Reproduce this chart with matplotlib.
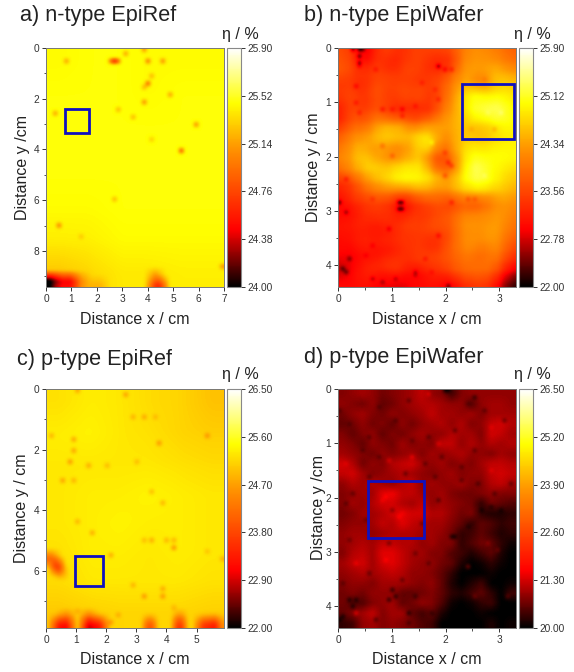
import numpy as np
import matplotlib
matplotlib.use('Agg')
import matplotlib.pyplot as plt
from matplotlib.colors import LinearSegmentedColormap
from matplotlib.patches import Rectangle
from matplotlib.ticker import MultipleLocator

plt.rcParams['font.family'] = ['Liberation Sans', 'DejaVu Sans']

W, H = 574, 672

# panel a) n-type EpiRef
a_base = [
    [25.45, 25.47, 25.47, 25.45, 25.45, 25.45],
    [25.47, 25.47, 25.47, 25.45, 25.47, 25.47],
    [25.47, 25.47, 25.47, 25.47, 25.47, 25.47],
    [25.47, 25.47, 25.47, 25.47, 25.47, 25.47],
    [25.47, 25.47, 25.47, 25.47, 25.47, 25.47],
    [25.45, 25.45, 25.47, 25.47, 25.47, 25.47],
    [25.40, 25.41, 25.45, 25.45, 25.45, 25.45],
    [25.27, 25.33, 25.39, 25.39, 25.41, 25.41],
]
a_spot_x = [2.7, 2.62, 2.78, 3.2, 0.8, 3.9, 3.95, 4.65, 3.8, 3.95, 4.1, 3.85, 4.85, 2.8, 0.35, 3.45, 5.85, 5.25, 4.1, 2.7, 0.45, 1.4, 6.9]
a_spot_y = [0.45, 0.45, 0.45, 0.25, 0.55, 0.1, 0.5, 0.55, 1.5, 1.35, 1.15, 2.2, 1.8, 2.4, 2.6, 2.7, 3.0, 4.05, 3.6, 6.0, 7.0, 7.4, 8.6]
a_spot_eta = [24.3, 24.8, 24.8, 25.0, 25.0, 25.0, 24.8, 24.9, 25.1, 24.7, 25.1, 24.9, 25.0, 25.1, 25.0, 25.1, 24.9, 24.6, 25.2, 25.1, 24.85, 25.2, 25.0]
a_band_x0 = [0.0, 0.0, 0.25, 0.55, 0.55, 1.2, 1.6, 4.2, 4.2]
a_band_x1 = [0.55, 0.25, 0.55, 1.2, 1.2, 1.6, 2.3, 4.6, 4.4]
a_band_y0 = [9.0, 9.2, 9.2, 9.05, 9.2, 9.1, 9.2, 9.2, 8.95]
a_band_y1 = [9.2, 9.42, 9.42, 9.2, 9.42, 9.42, 9.42, 9.42, 9.2]
a_band_eta = [23.8, 23.8, 24.2, 24.3, 24.5, 25.0, 25.2, 24.5, 25.0]
a_box = (0.75, 2.4, 0.95, 0.95)
a_cticks = [24.00, 24.38, 24.76, 25.14, 25.52, 25.90]

# panel b) n-type EpiWafer
b_grid = [
    [23.6, 23.4, 22.8, 23.1, 23.5, 23.4, 23.3, 23.5, 23.5, 23.5, 23.5, 23.6, 24.0, 24.2, 24.2, 24.1, 24.0, 23.8],
    [23.7, 23.5, 23.0, 23.3, 23.4, 23.1, 23.4, 23.5, 23.5, 23.2, 23.2, 23.3, 24.1, 24.3, 24.3, 24.3, 24.2, 24.0],
    [23.7, 23.5, 23.4, 23.5, 23.5, 23.4, 23.5, 23.6, 23.4, 23.4, 23.4, 23.8, 24.2, 24.4, 24.2, 24.5, 24.5, 24.3],
    [23.4, 23.4, 23.2, 23.5, 23.6, 23.5, 23.5, 23.4, 23.4, 23.5, 23.7, 24.0, 24.4, 24.3, 23.9, 24.4, 24.7, 24.6],
    [23.5, 23.6, 23.3, 23.7, 23.6, 23.4, 23.7, 23.6, 23.7, 23.3, 23.7, 24.1, 24.6, 25.0, 24.9, 24.8, 24.9, 24.8],
    [23.3, 23.6, 23.3, 23.5, 23.6, 23.4, 23.4, 23.4, 23.4, 23.4, 23.8, 24.2, 24.7, 25.1, 25.1, 25.2, 25.2, 24.9],
    [23.2, 23.7, 23.4, 23.8, 23.6, 23.3, 23.3, 23.3, 23.3, 23.4, 24.0, 24.3, 24.6, 25.1, 25.2, 25.3, 25.3, 25.0],
    [23.3, 23.8, 23.7, 24.0, 24.3, 24.2, 24.2, 23.7, 24.0, 24.2, 24.3, 24.4, 24.6, 24.7, 24.8, 24.9, 25.1, 25.0],
    [23.7, 24.1, 24.1, 24.4, 24.7, 24.7, 24.6, 24.5, 24.7, 24.5, 24.3, 24.3, 24.6, 24.5, 24.4, 24.6, 24.8, 24.9],
    [23.9, 24.3, 24.4, 24.4, 24.5, 24.4, 24.4, 24.5, 25.0, 24.9, 24.0, 24.3, 24.6, 24.8, 24.7, 24.8, 24.9, 24.9],
    [24.1, 24.4, 24.6, 24.2, 24.3, 24.0, 24.1, 24.4, 24.6, 24.2, 23.7, 24.1, 24.7, 25.0, 24.9, 25.0, 25.0, 25.0],
    [24.1, 24.4, 24.7, 24.7, 24.4, 24.4, 24.6, 24.7, 24.7, 23.8, 23.4, 23.8, 24.6, 25.2, 25.2, 25.0, 25.0, 24.9],
    [23.8, 24.2, 24.4, 24.7, 24.7, 24.9, 25.0, 25.0, 24.9, 24.6, 24.0, 24.1, 24.8, 25.3, 25.3, 25.0, 24.9, 24.7],
    [23.3, 23.5, 24.0, 24.3, 24.5, 24.7, 24.9, 24.9, 24.9, 24.7, 24.5, 24.5, 24.9, 25.1, 25.2, 25.0, 24.8, 24.6],
    [23.2, 23.5, 23.7, 23.9, 24.0, 24.0, 23.8, 24.0, 24.2, 24.1, 24.0, 24.2, 24.5, 24.6, 24.7, 24.5, 24.6, 24.4],
    [23.0, 23.3, 23.4, 23.5, 23.5, 23.3, 23.0, 23.3, 23.5, 23.7, 23.7, 23.4, 23.8, 23.6, 23.7, 24.0, 24.3, 24.2],
    [23.0, 23.0, 23.3, 23.4, 23.4, 23.3, 23.0, 23.3, 23.4, 23.4, 23.6, 23.7, 24.0, 24.0, 24.1, 24.2, 24.3, 24.1],
    [23.1, 23.2, 23.3, 23.2, 23.3, 23.3, 23.4, 23.6, 23.4, 23.7, 23.7, 23.8, 24.2, 24.3, 24.2, 24.3, 24.3, 24.0],
    [23.1, 23.1, 23.2, 23.1, 23.1, 23.2, 23.4, 23.4, 23.5, 23.5, 23.5, 23.7, 24.1, 24.2, 24.2, 24.4, 24.2, 23.9],
    [23.0, 23.1, 23.3, 23.2, 23.3, 23.3, 23.4, 23.4, 23.4, 23.2, 23.4, 23.8, 24.1, 24.3, 24.1, 24.3, 24.1, 23.7],
    [23.0, 22.9, 23.1, 23.0, 23.0, 23.1, 23.3, 23.4, 23.5, 23.4, 23.6, 23.8, 24.0, 24.1, 23.8, 24.1, 24.0, 23.5],
    [22.8, 22.9, 23.1, 23.2, 23.4, 23.5, 23.4, 23.3, 23.5, 23.5, 23.6, 23.7, 23.9, 23.9, 23.9, 24.0, 23.7, 23.2],
    [22.7, 23.0, 23.2, 23.3, 23.1, 23.3, 23.2, 23.0, 23.0, 23.3, 23.3, 23.6, 23.8, 23.9, 23.9, 23.8, 23.4, 22.8],
    [23.0, 23.0, 23.1, 23.0, 22.9, 22.9, 22.8, 23.0, 23.0, 23.1, 23.0, 22.9, 23.3, 23.4, 23.5, 23.3, 22.8, 22.2],
]
b_spot_x = [0.38, 0.38, 0.40, 0.30, 0.46, 0.42, 1.84, 1.97, 2.09, 0.72, 0.33, 0.36, 0.37, 1.22, 0.85, 1.04, 1.41, 1.19,
            1.86, 1.56, 1.78, 2.03, 2.13, 1.97, 2.0, 1.04, 0.82, 1.15, 1.22, 1.15, 1.22, 2.12, 2.4, 2.55, 0.17, 0.02, 0.14, 0.67,
            0.98, 0.62, 0.51, 0.24, 0.08, 0.14, 0.67, 1.07, 1.47, 1.41, 0.85, 1.84, 2.06, 1.63, 1.75,
            1.72, 2.77, 3.02, 2.71, 2.46, 2.9, 2.71]
b_spot_y = [0.05, 0.15, 0.25, 0.05, 0.05, 0.35, 0.36, 0.39, 0.41, 0.37, 0.72, 1.02, 1.17, 1.14, 1.16, 1.14, 1.09, 1.26,
            0.94, 0.62, 0.74, 2.12, 2.15, 1.94, 2.37, 1.97, 1.82, 2.82, 2.82, 2.95, 2.95, 2.87, 2.8, 2.8, 2.43, 2.86, 3.03, 2.8,
            3.32, 3.63, 3.8, 3.85, 4.06, 4.1, 4.26, 4.22, 4.15, 4.2, 4.33, 3.46, 4.34, 3.85, 4.12,
            1.72, 1.2, 1.17, 2.37, 1.48, 1.48, 0.57]
b_spot_eta = [22.0, 22.0, 22.1, 22.2, 22.2, 22.8, 22.0, 22.6, 22.9, 22.9, 22.7, 22.9, 23.0, 22.5, 22.8, 22.9, 22.9, 22.9,
              23.0, 23.0, 23.1, 22.9, 23.1, 23.2, 23.3, 23.5, 23.7, 22.0, 22.0, 22.0, 22.0, 22.9, 23.4, 23.5, 22.9, 22.1, 22.3, 23.2,
              22.5, 22.7, 22.7, 22.2, 22.0, 22.1, 22.4, 22.5, 22.5, 22.6, 22.4, 22.7, 22.3, 22.9, 22.9,
              25.1, 25.4, 25.5, 25.4, 24.3, 24.3, 23.9]
b_box = (2.3, 0.67, 0.97, 1.0)
b_cticks = [22.00, 22.78, 23.56, 24.34, 25.12, 25.90]

# panel c) p-type EpiRef
c_base = [
    [25.23, 25.33, 25.28, 25.18, 25.13, 24.98],
    [25.33, 25.38, 25.28, 25.23, 25.13, 25.08],
    [25.28, 25.28, 25.28, 25.28, 25.23, 25.18],
    [25.28, 25.33, 25.33, 25.38, 25.33, 25.28],
    [25.28, 25.33, 25.38, 25.33, 25.33, 25.28],
    [25.23, 25.33, 25.33, 25.28, 25.33, 25.28],
    [25.18, 25.28, 25.28, 25.28, 25.28, 25.23],
    [25.03, 25.08, 25.13, 25.13, 25.13, 25.08],
]
c_spot_x = [1.1, 2.7, 2.95, 3.3, 3.65, 0.15, 0.95, 0.9, 0.8, 1.45, 2.0, 3.0, 3.8, 5.4, 0.5, 0.9, 3.55, 3.85, 1.1, 1.5,
            3.3, 3.55, 4.0, 4.2, 4.3, 2.2, 5.3, 5.85, 2.9, 3.3, 3.85, 3.85, 4.3, 1.0, 2.35, 2.2]
c_spot_y = [0.1, 0.2, 0.9, 0.9, 0.95, 1.6, 1.65, 2.0, 2.35, 2.5, 2.5, 2.45, 1.85, 1.5, 3.05, 3.05, 3.45, 3.8, 4.4, 4.7,
            5.0, 5.0, 4.95, 5.2, 5.0, 5.55, 5.4, 5.6, 6.5, 6.85, 6.55, 6.8, 7.2, 7.3, 7.45, 7.75]
c_spot_eta = [24.6, 24.4, 24.6, 24.5, 24.7, 24.6, 24.4, 24.4, 24.3, 24.5, 24.7, 24.7, 24.3, 24.3, 24.4, 24.6, 24.7, 24.6, 24.6, 24.5,
              24.7, 24.5, 24.6, 24.2, 24.6, 24.5, 24.8, 24.7, 24.6, 24.3, 24.5, 24.3, 24.7, 24.7, 24.6, 24.4]
c_band_x0 = [0.3, 0.3, 0.55, 0.55, 1.3, 1.3, 1.65, 1.65, 3.35, 3.35, 4.35, 4.35, 5.15, 5.15, 5.5, 5.5, 0.25, 0.1, 0.4]
c_band_x1 = [0.5, 0.5, 0.75, 0.75, 1.6, 1.6, 1.85, 1.85, 3.55, 3.55, 4.55, 4.55, 5.35, 5.35, 5.7, 5.7, 0.45, 0.3, 0.55]
c_band_y0 = [7.55, 7.72, 7.5, 7.72, 7.45, 7.7, 7.55, 7.72, 7.6, 7.75, 7.5, 7.7, 7.6, 7.75, 7.55, 7.72, 5.7, 5.5, 5.95]
c_band_y1 = [7.72, 7.9, 7.72, 7.9, 7.7, 7.9, 7.72, 7.9, 7.75, 7.9, 7.7, 7.9, 7.75, 7.9, 7.72, 7.9, 5.95, 5.7, 6.05]
c_band_eta = [24.3, 23.3, 24.2, 23.1, 24.1, 22.8, 24.3, 23.3, 24.4, 23.4, 24.1, 22.9, 24.5, 23.6, 24.3, 23.3, 22.7, 24.1, 24.1]
c_box = (0.95, 5.53, 0.95, 0.97)
c_cticks = [22.00, 22.90, 23.80, 24.70, 25.60, 26.50]

# panel d) p-type EpiWafer
d_grid = [
    [20.8, 20.9, 21.0, 20.9, 20.7, 20.8, 20.9, 21.0, 21.2, 20.9, 20.8, 20.4, 20.8, 20.9, 20.9, 20.9, 20.9, 20.9],
    [20.9, 20.8, 20.7, 20.9, 20.6, 20.7, 20.9, 21.0, 21.1, 21.1, 21.0, 20.9, 20.9, 20.5, 20.9, 21.0, 21.0, 20.9],
    [20.7, 20.9, 21.0, 20.8, 20.7, 20.9, 20.8, 20.9, 21.0, 21.2, 21.0, 21.0, 20.9, 21.0, 20.8, 21.0, 21.0, 21.0],
    [20.6, 20.7, 20.9, 20.7, 20.8, 20.6, 20.9, 20.7, 20.9, 21.0, 21.1, 20.9, 21.1, 20.8, 20.9, 21.2, 21.3, 21.1],
    [20.8, 20.6, 20.8, 20.9, 20.6, 20.8, 20.7, 20.9, 21.0, 20.9, 20.9, 21.1, 21.0, 21.0, 20.8, 21.3, 21.2, 21.0],
    [20.9, 20.8, 20.6, 20.9, 20.8, 20.7, 21.0, 20.8, 20.9, 20.8, 21.2, 21.2, 20.9, 21.1, 20.9, 21.1, 21.0, 21.1],
    [21.0, 20.9, 20.8, 20.7, 20.9, 20.8, 20.9, 21.0, 20.8, 21.0, 20.9, 21.0, 21.1, 20.9, 20.9, 20.8, 21.0, 20.9],
    [21.3, 21.1, 20.7, 20.9, 20.8, 21.1, 21.2, 21.3, 21.0, 20.9, 21.0, 20.8, 20.9, 20.8, 21.0, 21.2, 21.2, 21.1],
    [21.2, 21.3, 21.0, 20.8, 20.9, 21.0, 21.1, 21.0, 20.9, 20.8, 20.9, 21.0, 20.8, 20.9, 20.9, 21.2, 21.3, 21.2],
    [20.9, 21.1, 21.0, 21.1, 21.0, 20.9, 21.1, 21.2, 20.9, 21.0, 20.9, 20.9, 21.0, 20.8, 20.8, 21.1, 21.2, 21.0],
    [20.8, 20.9, 21.0, 21.0, 21.4, 21.5, 21.2, 21.2, 21.0, 20.9, 21.0, 20.8, 20.7, 20.7, 20.8, 20.9, 20.8, 20.8],
    [20.8, 21.0, 20.9, 21.1, 21.3, 21.3, 21.1, 21.0, 21.2, 20.9, 21.0, 20.9, 20.8, 20.7, 20.3, 20.7, 20.6, 20.5],
    [20.7, 20.8, 21.0, 21.0, 21.1, 21.3, 21.4, 21.3, 21.3, 21.1, 21.1, 20.9, 20.7, 20.8, 20.3, 20.2, 20.2, 20.3],
    [20.8, 20.9, 20.9, 21.0, 21.2, 21.1, 21.4, 21.2, 21.1, 21.0, 21.0, 20.8, 20.6, 20.3, 20.6, 20.5, 20.3, 20.4],
    [20.9, 21.0, 21.0, 20.9, 21.0, 21.1, 21.1, 21.1, 21.0, 21.0, 20.9, 20.7, 20.3, 20.4, 20.6, 20.4, 20.2, 20.3],
    [20.9, 21.0, 21.1, 21.0, 21.2, 21.2, 21.1, 21.1, 20.9, 21.0, 20.8, 20.8, 20.3, 20.5, 20.7, 20.6, 20.3, 20.1],
    [20.8, 21.1, 21.2, 21.0, 21.4, 21.4, 21.2, 21.0, 21.0, 20.8, 20.8, 20.5, 20.4, 20.2, 20.4, 20.6, 20.2, 20.0],
    [21.0, 21.2, 21.3, 21.0, 21.3, 21.4, 21.2, 21.0, 20.9, 20.9, 20.7, 20.6, 20.2, 20.0, 20.1, 20.3, 20.1, 20.0],
    [20.9, 21.0, 21.1, 21.0, 21.1, 21.2, 21.1, 20.9, 20.9, 20.8, 20.6, 20.3, 20.0, 20.0, 20.0, 20.1, 20.0, 20.0],
    [20.8, 20.9, 20.9, 20.8, 21.0, 21.0, 21.0, 20.9, 20.8, 20.9, 20.6, 20.2, 20.0, 20.2, 20.4, 20.0, 20.0, 20.1],
    [20.7, 20.8, 20.7, 20.9, 20.9, 20.9, 20.6, 20.6, 20.7, 20.8, 20.6, 20.3, 20.2, 20.4, 20.6, 20.3, 20.0, 20.4],
    [20.7, 20.5, 20.5, 20.8, 20.9, 21.0, 20.6, 20.7, 20.9, 20.8, 20.5, 20.1, 20.0, 20.1, 20.3, 20.4, 20.0, 20.0],
    [20.6, 20.8, 21.0, 21.2, 20.8, 21.0, 21.0, 20.6, 20.4, 20.6, 20.2, 20.0, 20.0, 20.0, 20.1, 20.0, 20.0, 20.0],
    [20.3, 20.4, 20.9, 21.0, 20.8, 20.9, 20.8, 20.7, 20.5, 20.4, 20.0, 20.0, 20.0, 20.0, 20.0, 20.2, 20.0, 20.1],
]
d_spot_x = [2.03, 1.98, 2.55, 0.33, 0.23, 0.28, 1.07, 0.98, 1.03, 0.11, 0.05, 1.32, 2.18, 2.13, 2.68, 2.83, 3.02, 2.4, 1.72, 1.44,
            0.88, 0.82, 1.16, 1.22, 0.33, 0.88, 0.36, 0.14, 1.38, 0.92, 1.9, 2.83, 2.83, 1.66, 2.4, 2.52, 3.14, 2.77, 2.97,
            0.23, 0.6, 1.1, 1.66, 2.15, 2.52, 0.6, 1.78, 2.28, 2.58, 0.3, 0.75, 1.3, 0.05, 0.45, 0.75, 1.4, 1.6, 1.95, 2.3, 2.7, 3.1,
            0.5, 1.0, 1.55, 0.2, 0.95, 1.45, 0.1, 0.6, 1.2, 1.7, 2.9, 0.15, 1.25, 1.9, 2.45, 3.2, 0.7, 1.3]
d_spot_y = [0.06, 0.06, 0.18, 3.91, 3.91, 3.98, 3.79, 3.85, 3.72, 4.19, 4.25, 4.1, 2.74, 2.7, 2.22, 2.16, 2.22, 2.56, 4.13, 3.79,
            2.0, 2.06, 2.34, 2.3, 3.23, 3.14, 4.13, 1.36, 1.26, 1.32, 0.99, 0.68, 1.48, 0.12, 3.27, 3.82, 3.82, 2.83, 2.96,
            0.62, 0.86, 0.55, 0.86, 0.74, 1.11, 1.6, 1.6, 1.66, 1.73, 1.91, 0.35, 0.2, 0.4, 1.1, 1.25, 0.95, 1.35, 1.25, 1.45, 0.4, 0.55,
            2.4, 2.2, 2.45, 2.75, 2.85, 3.0, 3.55, 3.4, 3.5, 3.2, 1.95, 2.1, 1.55, 2.05, 0.25, 1.75, 4.25, 4.3]
d_spot_eta = [20.0, 20.0, 20.1, 20.0, 20.0, 20.0, 20.0, 20.0, 20.0, 20.0, 20.0, 20.0, 20.0, 20.0, 20.0, 20.1, 20.0, 20.1, 20.2, 20.2,
              21.7, 21.6, 21.7, 21.6, 21.6, 21.7, 21.6, 21.5, 21.6, 21.5, 21.5, 21.5, 21.5, 21.5, 20.9, 20.8, 20.7, 21.0, 20.8,
              20.4, 20.4, 20.4, 20.4, 20.4, 20.4, 20.4, 20.4, 20.4, 20.3, 20.4, 20.4, 20.4, 20.4, 20.4, 20.4, 20.5, 20.4, 20.4, 20.4, 20.4, 20.4,
              20.5, 20.6, 20.5, 20.5, 20.5, 20.5, 20.4, 20.4, 20.4, 20.4, 20.3, 20.4, 20.4, 20.3, 20.4, 20.4, 20.3, 20.3]
d_box = (0.56, 1.7, 1.03, 1.05)
d_cticks = [20.00, 21.30, 22.60, 23.90, 25.20, 26.50]

cmap = LinearSegmentedColormap.from_list('eta', [
    (0.0, '#000000'), (0.24, '#ff0000'), (0.58, '#ff9400'), (0.77, '#ffff00'), (1.0, '#ffffff')])


def smooth(grid, n):
    # box blur so the coarse background has no block edges
    kernel = np.ones(n) / n
    pad = n // 2
    out = np.pad(grid, pad, mode='edge')
    out = np.apply_along_axis(lambda r: np.convolve(r, kernel, mode='valid'), 1, out)
    out = np.apply_along_axis(lambda r: np.convolve(r, kernel, mode='valid'), 0, out)
    return out


def fine_grid(base, factor, blur, xs, ys, etas, xmax, ymax, band=None):
    grid = np.kron(np.array(base), np.ones((factor, factor)))
    grid = smooth(grid, blur)
    ny, nx = grid.shape
    if band:
        for x0, x1, y0, y1, eta in zip(*band):
            grid[int(y0 / ymax * ny):int(np.ceil(y1 / ymax * ny)), int(x0 / xmax * nx):int(np.ceil(x1 / xmax * nx))] = eta
        grid = smooth(grid, 3)
    for x, y, eta in zip(xs, ys, etas):
        grid[min(int(y / ymax * ny), ny - 1), min(int(x / xmax * nx), nx - 1)] = eta
    return grid


def px_axes(x0, y0, x1, y1):
    return fig.add_axes([x0 / W, 1 - y1 / H, (x1 - x0) / W, (y1 - y0) / H])


def px_text(x, y, s, size, **kw):
    fig.text(x / W, 1 - y / H, s, fontsize=size, color='#222222', va='center', **kw)


def panel(x0, y0, grid, xmax, ymax, box, cticks, xstep, ystep, minor_x, minor_y):
    ax = px_axes(x0, y0, x0 + 178, y0 + 239)
    im = ax.imshow(grid, extent=[0, xmax, ymax, 0], aspect='auto', cmap=cmap,
                   vmin=cticks[0], vmax=cticks[-1], interpolation='bicubic')
    ax.add_patch(Rectangle(box[:2], box[2], box[3], fill=False, ec='#1010c0', lw=2.0))
    ax.xaxis.set_major_locator(MultipleLocator(xstep))
    ax.yaxis.set_major_locator(MultipleLocator(ystep))
    ax.xaxis.set_minor_locator(MultipleLocator(minor_x))
    ax.yaxis.set_minor_locator(MultipleLocator(minor_y))
    ax.tick_params(which='major', length=3, width=0.7, labelsize=7.3, colors='#333333', pad=2)
    ax.tick_params(which='minor', length=1.8, width=0.6, colors='#333333')
    ax.set_xlim(0, xmax)
    ax.set_ylim(ymax, 0)
    for s in ax.spines.values():
        s.set_linewidth(0.7)
        s.set_color('#777777')

    cax = px_axes(x0 + 181, y0, x0 + 195, y0 + 239)
    cb = fig.colorbar(im, cax=cax)
    cb.set_ticks(cticks, labels=['%.2f' % t for t in cticks])
    cb.ax.tick_params(length=3, width=0.7, labelsize=7.3, colors='#333333', pad=1.5)
    cb.outline.set_edgecolor('#888888')
    cb.outline.set_linewidth(0.8)


fig = plt.figure(figsize=(W / 100, H / 100), dpi=100)

a_map = fine_grid(a_base, 8, 9, a_spot_x, a_spot_y, a_spot_eta, 7.0, 9.42,
                  (a_band_x0, a_band_x1, a_band_y0, a_band_y1, a_band_eta))
b_map = fine_grid(b_grid, 3, 5, b_spot_x, b_spot_y, b_spot_eta, 3.31, 4.4)
c_map = fine_grid(c_base, 8, 9, c_spot_x, c_spot_y, c_spot_eta, 5.91, 7.9,
                  (c_band_x0, c_band_x1, c_band_y0, c_band_y1, c_band_eta))
d_map = fine_grid(d_grid, 3, 3, d_spot_x, d_spot_y, d_spot_eta, 3.31, 4.4)

panel(46, 48, a_map, 7.0, 9.42, a_box, a_cticks, 1, 2, 1, 1)
panel(338, 48, b_map, 3.31, 4.4, b_box, b_cticks, 1, 1, 0.5, 0.5)
panel(46, 389, c_map, 5.91, 7.9, c_box, c_cticks, 1, 2, 1, 1)
panel(338, 389, d_map, 3.31, 4.4, d_box, d_cticks, 1, 1, 0.5, 0.5)

px_text(20, 16, 'a) n-type EpiRef', 15.6)
px_text(304, 15, 'b) n-type EpiWafer', 15.6)
px_text(17, 359, 'c) p-type EpiRef', 15.6)
px_text(304, 358, 'd) p-type EpiWafer', 15.6)

for x, y in [(240, 35), (532, 35), (240, 375), (532, 375)]:
    px_text(x, y, 'η / %', 11.5, ha='center')
for x, y in [(135, 319), (427, 319), (135, 659), (427, 659)]:
    px_text(x, y, 'Distance x / cm', 11.5, ha='center')
px_text(23, 168, 'Distance y /cm', 11.5, ha='center', rotation=90)
px_text(314, 167, 'Distance y / cm', 11.5, ha='center', rotation=90)
px_text(22, 508, 'Distance y / cm', 11.5, ha='center', rotation=90)
px_text(319, 507, 'Distance y /cm', 11.5, ha='center', rotation=90)

fig.savefig('out.png', dpi=100)
